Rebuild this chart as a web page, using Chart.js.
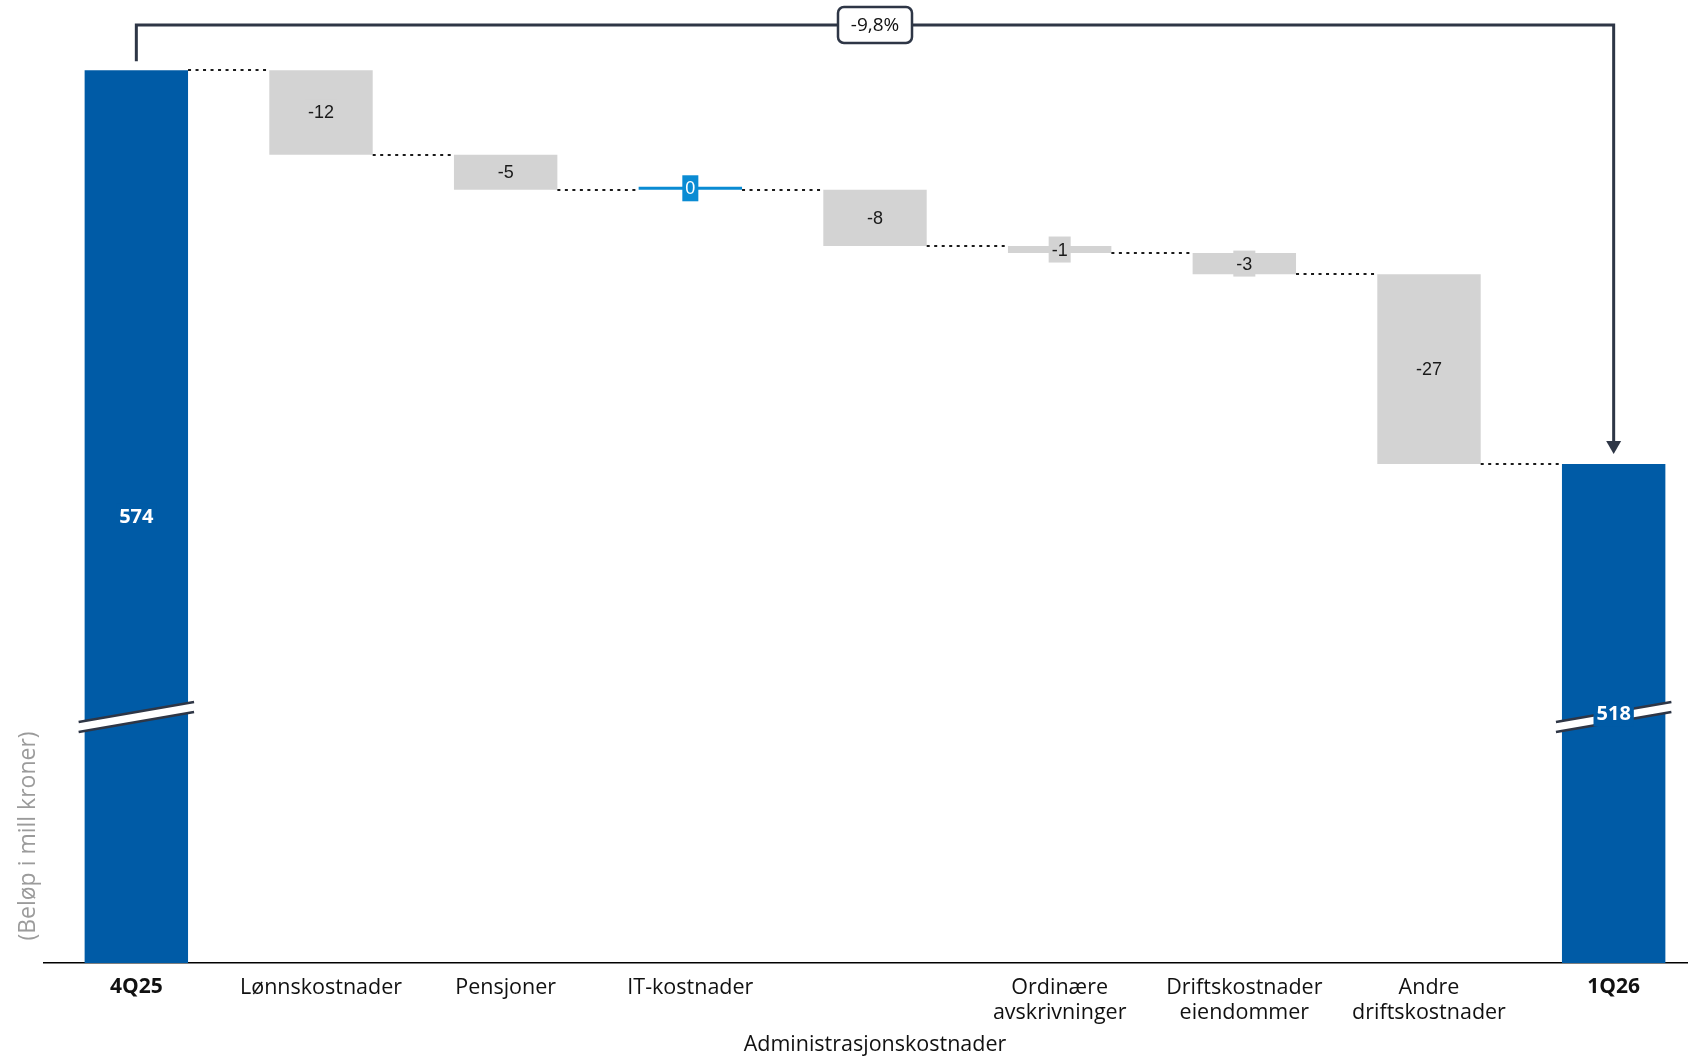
<!DOCTYPE html>
<html>
<head>
<meta charset="utf-8">
<script src="https://cdn.jsdelivr.net/npm/chart.js@4.4.1/dist/chart.umd.min.js"></script>
<style>
  html, body { margin: 0; padding: 0; background: #fff; overflow: hidden; }
  #wrap { position: relative; width: 1706px; height: 1058px; }
</style>
</head>
<body>
<div id="wrap"><canvas id="chart"></canvas></div>
<script>
/* ── data ── */
const categories = [
  ['4Q25'],
  ['Lønnskostnader'],
  ['Pensjoner'],
  ['IT-kostnader'],
  ['', '', 'Administrasjonskostnader'],
  ['Ordinære', 'avskrivninger'],
  ['Driftskostnader', 'eiendommer'],
  ['Andre', 'driftskostnader'],
  ['1Q26']
];
const startValue = 574;
const changes = [-12, -5, 0, -8, -1, -3, -27];
const endValue = 518;
const changePct = '-9,8%';
const yTitle = '(Beløp i mill kroner)';

// aksen er brutt: starter ikke på 0
const axisMin = 447;
const axisMax = 584;

/* ── farger ── */
const TOTAL_COLOR = '#005ba6';
const DOWN_COLOR = '#d3d3d3';
const ZERO_COLOR = '#0a8bd3';
const LINE_COLOR = '#2e3646';
const FONT = '"Open Sans", sans-serif';

// flytende søyler [fra, til] + nivå etter hver søyle (for stiplede linjer)
const ranges = [[axisMin, startValue]];
const levels = [startValue];
const labels = [String(startValue)];
let running = startValue;
changes.forEach(c => {
  ranges.push([running + c, running]);
  running += c;
  levels.push(running);
  labels.push(String(c));
});
ranges.push([axisMin, endValue]);
levels.push(endValue);
labels.push(String(endValue));

const isTotal = i => i === 0 || i === categories.length - 1;
const barColors = ranges.map((r, i) => {
  if (isTotal(i)) return TOTAL_COLOR;
  return changes[i - 1] === 0 ? ZERO_COLOR : DOWN_COLOR;
});

function roundRect(ctx, x, y, w, h, r) {
  ctx.beginPath();
  ctx.moveTo(x + r, y);
  ctx.arcTo(x + w, y, x + w, y + h, r);
  ctx.arcTo(x + w, y + h, x, y + h, r);
  ctx.arcTo(x, y + h, x, y, r);
  ctx.arcTo(x, y, x + w, y, r);
  ctx.closePath();
}

const extras = {
  id: 'extras',
  afterDatasetsDraw(chart) {
    const ctx = chart.ctx;
    const y = chart.scales.y;
    const bars = chart.getDatasetMeta(0).data;
    const last = bars.length - 1;

    // stiplede forbindelseslinjer
    ctx.save();
    ctx.setLineDash([3, 4.5]);
    ctx.lineWidth = 2;
    ctx.strokeStyle = '#1a1a1a';
    for (let i = 0; i < last; i++) {
      const py = Math.round(y.getPixelForValue(levels[i]));
      const a = bars[i], b = bars[i + 1];
      ctx.beginPath();
      ctx.moveTo(a.x + a.width / 2, py);
      ctx.lineTo(b.x - b.width / 2, py);
      ctx.stroke();
    }
    ctx.restore();

    // brudd-markering på totalsøylene
    const breakY = y.getPixelForValue(482);
    [0, last].forEach(i => {
      const b = bars[i];
      const x0 = b.x - b.width / 2 - 6, x1 = b.x + b.width / 2 + 6;
      const slope = -20 / (x1 - x0);
      const yAt = (x, off) => breakY + off + slope * (x - b.x);
      ctx.save();
      ctx.fillStyle = '#fff';
      ctx.beginPath();
      ctx.moveTo(x0, yAt(x0, -5));
      ctx.lineTo(x1, yAt(x1, -5));
      ctx.lineTo(x1, yAt(x1, 5));
      ctx.lineTo(x0, yAt(x0, 5));
      ctx.closePath();
      ctx.fill();
      ctx.strokeStyle = LINE_COLOR;
      ctx.lineWidth = 2.5;
      [-5, 5].forEach(off => {
        ctx.beginPath();
        ctx.moveTo(x0, yAt(x0, off));
        ctx.lineTo(x1, yAt(x1, off));
        ctx.stroke();
      });
      ctx.restore();
    });

    // verdietiketter
    bars.forEach((b, i) => {
      const c = b.getCenterPoint();
      const total = isTotal(i);
      ctx.save();
      ctx.font = total ? `bold 20px ${FONT}` : '18px "Liberation Sans", Arial, sans-serif';
      const w = ctx.measureText(labels[i]).width + 6;
      const h = 26;
      ctx.fillStyle = barColors[i];
      ctx.fillRect(c.x - w / 2, c.y - h / 2, w, h);
      ctx.fillStyle = (total || barColors[i] === ZERO_COLOR) ? '#fff' : '#1a1a1a';
      ctx.textAlign = 'center';
      ctx.textBaseline = 'middle';
      ctx.fillText(labels[i], c.x, c.y + 1);
      ctx.restore();
    });

    // klamme med pil fra 4Q25 til 1Q26
    const a = bars[0], z = bars[last];
    const topY = 25;
    const tipY = z.y - 10;
    ctx.save();
    ctx.strokeStyle = LINE_COLOR;
    ctx.fillStyle = LINE_COLOR;
    ctx.lineWidth = 3;
    ctx.beginPath();
    ctx.moveTo(a.x, a.y - 9);
    ctx.lineTo(a.x, topY);
    ctx.lineTo(z.x, topY);
    ctx.lineTo(z.x, tipY - 12);
    ctx.stroke();
    ctx.beginPath();
    ctx.moveTo(z.x - 7.5, tipY - 13);
    ctx.lineTo(z.x + 7.5, tipY - 13);
    ctx.lineTo(z.x, tipY);
    ctx.closePath();
    ctx.fill();

    const mid = (a.x + z.x) / 2;
    roundRect(ctx, mid - 37, topY - 18, 74, 36, 6);
    ctx.fillStyle = '#fff';
    ctx.fill();
    ctx.lineWidth = 2.5;
    ctx.stroke();
    ctx.fillStyle = '#111';
    ctx.font = `19px ${FONT}`;
    ctx.textAlign = 'center';
    ctx.textBaseline = 'middle';
    ctx.fillText(changePct, mid, topY + 1);
    ctx.restore();

    // y-aksetittel
    ctx.save();
    ctx.translate(28, 836);
    ctx.rotate(-Math.PI / 2);
    ctx.fillStyle = '#9b9b9b';
    ctx.font = `23px ${FONT}`;
    ctx.textAlign = 'center';
    ctx.textBaseline = 'middle';
    ctx.fillText(yTitle, 0, 0);
    ctx.restore();
  }
};

new Chart(document.getElementById('chart'), {
  type: 'bar',
  data: {
    labels: categories,
    datasets: [{
      data: ranges,
      backgroundColor: barColors,
      borderWidth: 0,
      minBarLength: 3,
      barPercentage: 0.56,
      categoryPercentage: 1
    }]
  },
  options: {
    responsive: true,
    maintainAspectRatio: false,
    animation: false,
    layout: { padding: 0 },
    plugins: {
      legend: { display: false },
      tooltip: { enabled: false }
    },
    scales: {
      x: {
        grid: { display: false, drawTicks: false },
        border: { display: true, color: '#000', width: 1.5 },
        ticks: {
          autoSkip: false,
          maxRotation: 0,
          minRotation: 0,
          padding: 12,
          color: '#111',
          font: ctx => ({
            family: FONT,
            size: isTotal(ctx.index) ? 21 : 21.5,
            weight: isTotal(ctx.index) ? 'bold' : 'normal',
            lineHeight: ctx.index === 4 ? '27.8px' : '25px'
          })
        },
        afterFit: s => { s.height = 95; }
      },
      y: {
        min: axisMin,
        max: axisMax,
        grid: { display: false, drawTicks: false },
        border: { display: false },
        ticks: { display: false },
        afterFit: s => { s.width = 44; }
      }
    }
  },
  plugins: [extras]
});
</script>
</body>
</html>
